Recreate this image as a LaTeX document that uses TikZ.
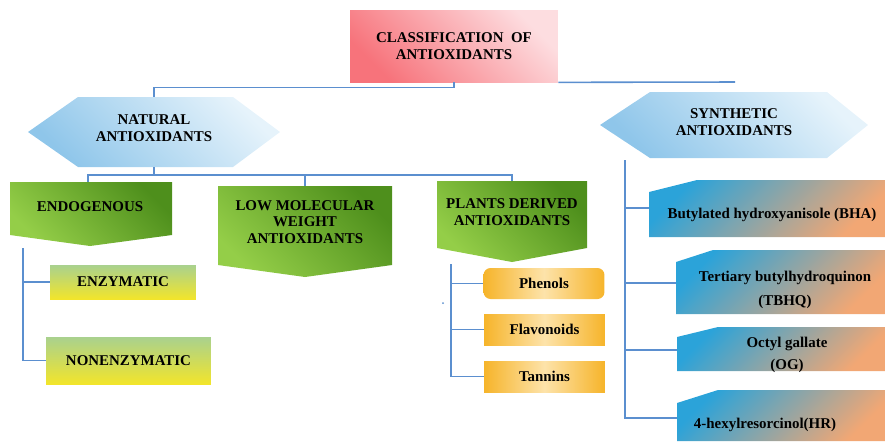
\documentclass[tikz,border=0pt]{standalone}
\usepackage{fontspec}
\setmainfont{Liberation Serif}

\definecolor{linkblue}{HTML}{5B8FCF}
\definecolor{pinkdark}{HTML}{F7737B}
\definecolor{pinklight}{HTML}{FDDDE0}
\definecolor{hexdark}{HTML}{8FC6EA}
\definecolor{hexlight}{HTML}{E6F3FB}
\definecolor{greendark}{HTML}{4E8F1C}
\definecolor{greenlight}{HTML}{94CE48}
\definecolor{yellowtop}{HTML}{A9D18E}
\definecolor{yellowbot}{HTML}{F2E52B}
\definecolor{orangeedge}{HTML}{F6B42A}
\definecolor{orangemid}{HTML}{FDE3AA}
\definecolor{synblue}{HTML}{2BA3D9}
\definecolor{synorange}{HTML}{F2A774}

\begin{document}
\begin{tikzpicture}[x=0.02cm,y=-0.02cm,
  every node/.style={font=\bfseries\fontsize{8.5}{9.5}\selectfont,align=center,inner sep=0pt},
  link/.style={draw=linkblue,line width=0.9pt},
  hexfill/.style={top color=hexlight,bottom color=hexdark,shading angle=-45},
  greenfill/.style={top color=greendark,bottom color=greenlight,shading angle=-45},
  yellowbox/.style={top color=yellowtop,bottom color=yellowbot},
  orangebox/.style={left color=orangeedge,right color=orangeedge,middle color=orangemid,minimum width=2.42cm,minimum height=0.62cm},
  synfill/.style={top color=synblue,bottom color=synorange,shading angle=45}]
\useasboundingbox (0,0) rectangle (885,441);

% top
\node[top color=pinklight,bottom color=pinkdark,shading angle=-45,minimum width=4.16cm,minimum height=1.44cm]
  (cls) at (454,46) {CLASSIFICATION\ \ OF\\ANTIOXIDANTS};

% natural / synthetic
\shade[hexfill] (28,132) -- (78,97) -- (233,97) -- (280,132) -- (233,167) -- (78,167) -- cycle;
\node (nat) at (154,128) {NATURAL\\ANTIOXIDANTS};
\shade[hexfill] (600,125) -- (650,92) -- (827,92) -- (868,125) -- (827,158) -- (650,158) -- cycle;
\node (syn) at (734,122) {SYNTHETIC\\ANTIOXIDANTS};

% green arrows
\shade[greenfill] (10,182) -- (172,182) -- (172,235) -- (90,246) -- (10,235) -- cycle;
\node (endo) at (90,207) {ENDOGENOUS};
\shade[greenfill] (218,186) -- (392,186) -- (392,265) -- (305,277) -- (218,265) -- cycle;
\node (low) at (305,222) {LOW MOLECULAR\\WEIGHT\\ANTIOXIDANTS};
\shade[greenfill] (437,181) -- (587,181) -- (587,248) -- (512,262) -- (437,248) -- cycle;
\node (plant) at (512,212) {PLANTS DERIVED\\ANTIOXIDANTS};

% endogenous
\node[yellowbox,minimum width=2.92cm,minimum height=0.68cm] (enz) at (123,282) {ENZYMATIC};
\node[yellowbox,minimum width=3.3cm,minimum height=0.94cm] (nonenz) at (128.5,360.5) {NONENZYMATIC};

% plants
\node[orangebox,rounded corners=4pt] (phen) at (544,283.5) {Phenols};
\node[orangebox] (flav) at (544.5,329.5) {Flavonoids};
\node[orangebox] (tan) at (544.5,376.5) {Tannins};
\fill[linkblue] (443,303) circle (1);

% synthetic
\shade[synfill] (649,237) -- (649,192) -- (697,180) -- (885,180) -- (885,237) -- cycle;
\node (bha) at (772,215) {Butylated hydroxyanisole (BHA)};
\shade[synfill] (676,314) -- (676,262) -- (713,250) -- (885,250) -- (885,314) -- cycle;
\node (tbhq) at (785,290) {Tertiary butylhydroquinon\\[4pt](TBHQ)};
\shade[synfill] (677,371) -- (677,337) -- (718,327) -- (885,327) -- (885,371) -- cycle;
\node (og) at (787,355) {Octyl gallate\\[3pt](OG)};
\shade[synfill] (677,441) -- (677,403) -- (718,390) -- (885,390) -- (885,441) -- cycle;
\node (hr) at (765,425) {4-hexylresorcinol(HR)};

% connection points
\coordinate (nat-n) at (154,97);
\coordinate (nat-s) at (154,167);
\coordinate (syn-n) at (735,82);
\coordinate (syn-s) at (625,160);
\coordinate (endo-n) at (88,182);
\coordinate (low-n) at (305,186);
\coordinate (plant-n) at (512,181);
\coordinate (endo-s) at (23,248);
\coordinate (plant-s) at (451,264);
\coordinate (bha-w) at (649,208);
\coordinate (tbhq-w) at (676,283);
\coordinate (og-w) at (677,350);
\coordinate (hr-w) at (677,418);

% lines
\draw[link] (cls.south) -- ++(0,5) -| (nat-n);
\draw[link] (cls.south east) -- (syn-n);
\draw[link] (nat-s) -- ++(0,8);
\draw[link] (endo-n) -- ++(0,-7) -| (plant-n);
\draw[link] (low-n) -- ++(0,-11);
\draw[link] (endo-s) |- (enz.west);
\draw[link] (endo-s) |- (nonenz.west);
\draw[link] (plant-s) |- (phen.west);
\draw[link] (plant-s) |- (flav.west);
\draw[link] (plant-s) |- (tan.west);
\draw[link] (syn-s) |- (bha-w);
\draw[link] (syn-s) |- (tbhq-w);
\draw[link] (syn-s) |- (og-w);
\draw[link] (syn-s) |- (hr-w);
\end{tikzpicture}
\end{document}
